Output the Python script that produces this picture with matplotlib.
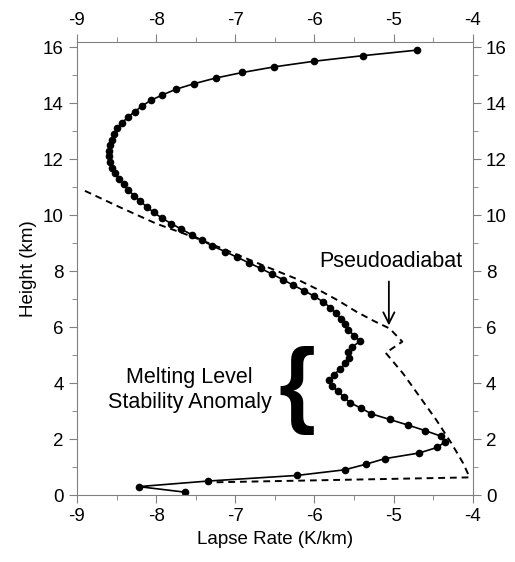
import numpy as np
import matplotlib
matplotlib.use("Agg")
import matplotlib.pyplot as plt

plt.rcParams["font.family"] = ["Liberation Sans", "DejaVu Sans"]
plt.rcParams["axes.unicode_minus"] = False

# observed lapse rate profile (height km, lapse rate K/km)
height = [15.9, 15.7, 15.5, 15.3, 15.1, 14.9, 14.7, 14.5, 14.3, 14.1,
          13.9, 13.7, 13.5, 13.3, 13.1, 12.9, 12.7, 12.5, 12.3, 12.1,
          11.9, 11.7, 11.5, 11.3, 11.1, 10.9, 10.7, 10.5, 10.3, 10.1,
          9.9, 9.7, 9.5, 9.3, 9.1, 8.9, 8.7, 8.5, 8.3, 8.1,
          7.9, 7.7, 7.5, 7.3, 7.1, 6.9, 6.7, 6.5, 6.3, 6.1,
          5.9, 5.7, 5.5, 5.3, 5.1, 4.9, 4.7, 4.5, 4.3, 4.1,
          3.9, 3.7, 3.5, 3.3, 3.1, 2.9, 2.7, 2.5, 2.3, 2.1,
          1.9, 1.7, 1.5, 1.3, 1.1, 0.9, 0.7, 0.5, 0.3, 0.1]
lapse = [-4.70, -5.39, -6.01, -6.51, -6.91, -7.25, -7.52, -7.75, -7.92, -8.07,
         -8.18, -8.27, -8.36, -8.43, -8.49, -8.53, -8.56, -8.58, -8.59, -8.59,
         -8.58, -8.56, -8.52, -8.47, -8.41, -8.35, -8.28, -8.20, -8.12, -8.03,
         -7.93, -7.81, -7.68, -7.55, -7.42, -7.29, -7.13, -6.98, -6.83, -6.68,
         -6.54, -6.40, -6.27, -6.13, -6.00, -5.89, -5.80, -5.73, -5.67, -5.62,
         -5.57, -5.50, -5.42, -5.52, -5.57, -5.56, -5.61, -5.68, -5.75, -5.82,
         -5.78, -5.70, -5.63, -5.55, -5.41, -5.28, -5.05, -4.82, -4.60, -4.40,
         -4.35, -4.45, -4.68, -5.11, -5.35, -5.62, -6.22, -7.34, -8.22, -7.63]

# pseudoadiabat
pa_lapse = [-8.90, -8.47, -8.00, -7.54, -7.20, -6.90, -6.60, -6.25, -5.94, -5.70,
            -5.47, -5.25, -5.05, -4.89, -5.10, -4.88, -4.67, -4.46, -4.27, -4.12,
            -4.04, -7.35]
pa_height = [10.87, 10.30, 9.70, 9.23, 8.85, 8.50, 8.15, 7.75, 7.32, 6.95,
             6.55, 6.22, 5.95, 5.48, 5.08, 4.34, 3.51, 2.68, 1.85, 1.13,
             0.63, 0.45]

fig = plt.figure(figsize=(5.15, 5.62), dpi=100)
ax = fig.add_axes([0.1495, 0.1192, 0.7685, 0.8066])

ax.plot(pa_lapse, pa_height, color="black", lw=1.4, ls=(0, (3.5, 2.5)))
ax.plot(lapse, height, color="black", lw=1.2, marker="o", ms=4.5)

ax.set_xlim(-9, -4)
ax.set_ylim(0, 16.2)
ax.set_xticks(np.arange(-9, -3.9, 1))
ax.set_xticks(np.arange(-9, -3.9, 0.5), minor=True)
ax.set_yticks(np.arange(0, 16.1, 2))
ax.set_yticks(np.arange(0, 16.1, 1), minor=True)
ax.tick_params(which="both", direction="out", top=True, right=True,
               labeltop=True, labelright=True, labelsize=13.5, color="#808080")
ax.tick_params(which="major", length=6)
ax.tick_params(which="minor", length=3.5)
for sp in ax.spines.values():
    sp.set_color("#808080")

ax.set_xlabel("Lapse Rate (K/km)", fontsize=13.5)
ax.set_ylabel("Height (km)", fontsize=13.5)

ax.text(-5.03, 8.33, "Pseudoadiabat", fontsize=15.5, ha="center", va="center")
ax.annotate("", xy=(-5.06, 5.96), xytext=(-5.06, 7.73),
            arrowprops=dict(arrowstyle="->", color="black", lw=1.3,
                            mutation_scale=20))
ax.text(-7.58, 3.75, "Melting Level\nStability Anomaly", fontsize=15.5,
        ha="center", va="center", linespacing=1.25)
ax.text(-6.22, 3.72, "{", fontsize=68, ha="center", va="center",
        fontweight="bold")

fig.savefig("out.png", dpi=100)
